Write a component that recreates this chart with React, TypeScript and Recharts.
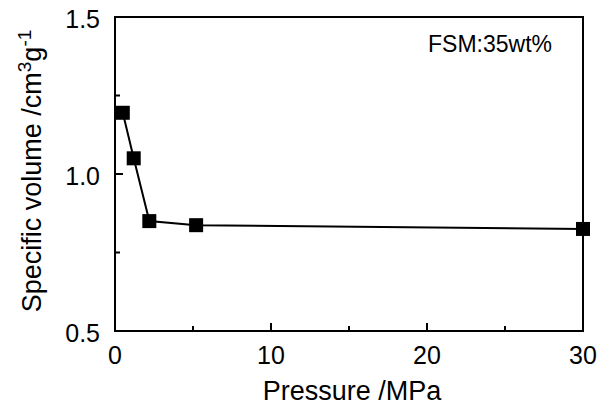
import { LineChart, Line, XAxis, YAxis, ReferenceArea } from 'recharts';

const pressure = [0.5, 1.2, 2.2, 5.2, 30];
const volume = [1.195, 1.05, 0.85, 0.837, 0.825];

const xTicks = [0, 5, 10, 15, 20, 25, 30];
const xLabeled = [0, 10, 20, 30];
const yTicks = [0.5, 0.75, 1.0, 1.25, 1.5];
const yLabeled = [0.5, 1.0, 1.5];

const data = pressure.map((p, i) => ({ p, v: volume[i] }));

const FONT = '"Liberation Sans", Arial, Helvetica, sans-serif';

// inward ticks: line starts at the axis, label sits outside
function XTick(props: any) {
  const { x, y, payload } = props;
  const axisY = y - 24;
  const major = xLabeled.includes(payload.value);
  return (
    <g>
      {payload.value !== 0 && payload.value !== 30 && (
        <line x1={x} x2={x} y1={axisY} y2={axisY - (major ? 8 : 5)} stroke="#000" strokeWidth={2} />
      )}
      {major && (
        <text x={x} y={y} textAnchor="middle" dominantBaseline="central" fontSize={25} fontFamily={FONT} fill="#000">
          {payload.value}
        </text>
      )}
    </g>
  );
}

function YTick(props: any) {
  const { x, y, payload } = props;
  const axisX = x + 15;
  const major = yLabeled.includes(payload.value);
  return (
    <g>
      {payload.value !== 0.5 && payload.value !== 1.5 && (
        <line x1={axisX} x2={axisX + (major ? 8 : 5)} y1={y} y2={y} stroke="#000" strokeWidth={2} />
      )}
      {major && (
        <text x={x} y={y + 2} textAnchor="end" dominantBaseline="central" fontSize={25} fontFamily={FONT} fill="#000">
          {payload.value.toFixed(1)}
        </text>
      )}
    </g>
  );
}

function SquareDot(props: any) {
  const { cx, cy } = props;
  if (cx == null || cy == null) return null;
  return <rect x={cx - 7} y={cy - 7} width={14} height={14} fill="#000" />;
}

export default function App() {
  return (
    <div style={{ position: 'absolute', left: 0, top: 0, background: '#fff' }}>
      <LineChart width={600} height={413} data={data} margin={{ top: 17, right: 17, bottom: 0, left: 0 }}>
        <XAxis
          dataKey="p"
          type="number"
          domain={[0, 30]}
          ticks={xTicks}
          height={82}
          tickSize={0}
          tickMargin={24}
          tickLine={false}
          axisLine={{ stroke: '#000', strokeWidth: 2 }}
          tick={<XTick />}
        />
        <YAxis
          dataKey="v"
          type="number"
          domain={[0.5, 1.5]}
          ticks={yTicks}
          width={115}
          tickSize={0}
          tickMargin={15}
          tickLine={false}
          axisLine={{ stroke: '#000', strokeWidth: 2 }}
          tick={<YTick />}
        />
        <ReferenceArea x1={0} x2={30} y1={0.5} y2={1.5} fill="none" stroke="#000" strokeWidth={2} />
        <Line
          dataKey="v"
          stroke="#000"
          strokeWidth={2}
          dot={<SquareDot />}
          activeDot={false}
          isAnimationActive={false}
        />
        <text x={352} y={400} textAnchor="middle" fontSize={27} fontFamily={FONT} fill="#000">
          Pressure /MPa
        </text>
        <text transform="rotate(-90)" x={-171} y={41} textAnchor="middle" fontSize={27} fontFamily={FONT} fill="#000">
          Specific volume /cm
          <tspan dy={-10} fontSize={19}>3</tspan>
          <tspan dy={10}>g</tspan>
          <tspan dy={-10} fontSize={19}>-1</tspan>
        </text>
        <text x={428} y={52} fontSize={23} fontFamily={FONT} fill="#000">
          FSM:35wt%
        </text>
      </LineChart>
    </div>
  );
}
